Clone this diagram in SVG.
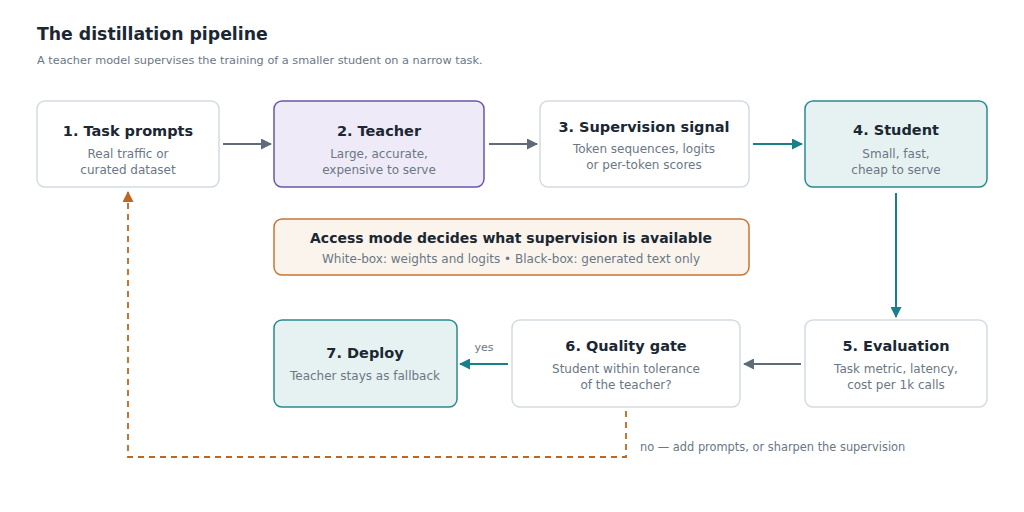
<svg xmlns="http://www.w3.org/2000/svg" width="1024" height="512" viewBox="0 0 1024 512">
<style>
text{font-family:"DejaVu Sans","Liberation Sans",sans-serif}
.t{font-size:14.5px;font-weight:bold;fill:#1b2733;text-anchor:middle}
.s{font-size:12px;fill:#6b7785;text-anchor:middle}
.box{fill:#fff;stroke:#d3dbe2;stroke-width:1.5}
.teach{fill:#efeaf8;stroke:#6b55a8;stroke-width:1.5}
.stud{fill:#e6f2f2;stroke:#2a8a8e;stroke-width:1.5}
.acc{fill:#faf4ec;stroke:#c87533;stroke-width:1.5}
.g{stroke:#5f6b78;stroke-width:2;fill:none}
.tl{stroke:#17808a;stroke-width:2;fill:none}
</style>
<defs>
<marker id="ag" markerWidth="11" markerHeight="11" refX="10" refY="5.5" orient="auto" markerUnits="userSpaceOnUse" viewBox="0 0 11 11"><path d="M0,0 L11,5.5 L0,11 z" fill="#5f6b78"/></marker>
<marker id="at" markerWidth="11" markerHeight="11" refX="10" refY="5.5" orient="auto" markerUnits="userSpaceOnUse" viewBox="0 0 11 11"><path d="M0,0 L11,5.5 L0,11 z" fill="#17808a"/></marker>
<marker id="ao" markerWidth="11" markerHeight="11" refX="10" refY="5.5" orient="auto" markerUnits="userSpaceOnUse" viewBox="0 0 11 11"><path d="M0,0 L11,5.5 L0,11 z" fill="#c0661f"/></marker>
</defs>
<rect width="1024" height="512" fill="#fff"/>
<text x="37" y="40" style="font-size:17.3px;font-weight:bold;fill:#1b2733">The distillation pipeline</text>
<text x="37" y="64" style="font-size:11.3px;fill:#6b7785">A teacher model supervises the training of a smaller student on a narrow task.</text>

<g id="connectors">
<line class="g" x1="223" y1="144" x2="271" y2="144" marker-end="url(#ag)"/>
<line class="g" x1="489" y1="144" x2="537" y2="144" marker-end="url(#ag)"/>
<line class="tl" x1="753" y1="144" x2="802" y2="144" marker-end="url(#at)"/>
<line class="tl" x1="896" y1="193" x2="896" y2="317" marker-end="url(#at)"/>
<line class="g" x1="801" y1="364" x2="744" y2="364" marker-end="url(#ag)"/>
<line class="tl" x1="508" y1="364" x2="460" y2="364" marker-end="url(#at)"/>
<text x="484" y="351" style="font-size:11px;fill:#6b7785;text-anchor:middle">yes</text>
<path d="M626,411 V457 H128 V192" fill="none" stroke="#c0661f" stroke-width="1.8" stroke-dasharray="6,5" marker-end="url(#ao)"/>
<text x="640" y="451" style="font-size:11.4px;fill:#6b7785">no — add prompts, or sharpen the supervision</text>
</g>

<g id="n1"><rect class="box" x="37" y="101" width="182" height="86" rx="8"/>
<text class="t" x="128" y="136">1. Task prompts</text>
<text class="s" x="128" y="158">Real traffic or</text><text class="s" x="128" y="174">curated dataset</text></g>
<g id="n2"><rect class="teach" x="274" y="101" width="210" height="86" rx="8"/>
<text class="t" x="379" y="136">2. Teacher</text>
<text class="s" x="379" y="158">Large, accurate,</text><text class="s" x="379" y="174">expensive to serve</text></g>
<g id="n3"><rect class="box" x="540" y="101" width="209" height="86" rx="8"/>
<text class="t" x="644" y="132">3. Supervision signal</text>
<text class="s" x="644" y="153">Token sequences, logits</text><text class="s" x="644" y="169">or per-token scores</text></g>
<g id="n4"><rect class="stud" x="805" y="101" width="182" height="86" rx="8"/>
<text class="t" x="896" y="135">4. Student</text>
<text class="s" x="896" y="158">Small, fast,</text><text class="s" x="896" y="174">cheap to serve</text></g>
<g id="access"><rect class="acc" x="274" y="219" width="475" height="56" rx="8"/>
<text class="t" x="511" y="243" style="font-size:14px">Access mode decides what supervision is available</text>
<text class="s" x="511" y="263">White-box: weights and logits • Black-box: generated text only</text></g>
<g id="n7"><rect class="stud" x="274" y="320" width="183" height="87" rx="8"/>
<text class="t" x="365" y="358">7. Deploy</text>
<text class="s" x="365" y="380">Teacher stays as fallback</text></g>
<g id="n6"><rect class="box" x="512" y="320" width="228" height="87" rx="8"/>
<text class="t" x="626" y="351">6. Quality gate</text>
<text class="s" x="626" y="373">Student within tolerance</text><text class="s" x="626" y="389">of the teacher?</text></g>
<g id="n5"><rect class="box" x="805" y="320" width="182" height="87" rx="8"/>
<text class="t" x="896" y="351">5. Evaluation</text>
<text class="s" x="896" y="373">Task metric, latency,</text><text class="s" x="896" y="389">cost per 1k calls</text></g>
</svg>
